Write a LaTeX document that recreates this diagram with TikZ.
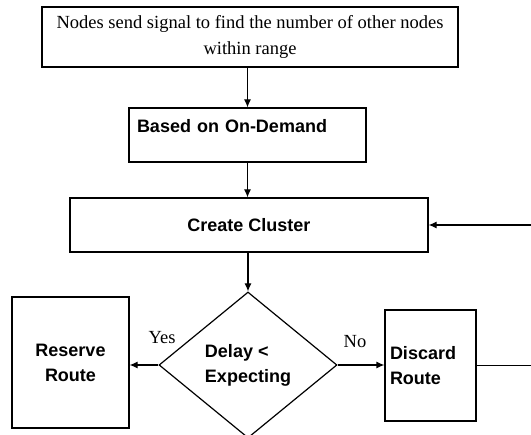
\documentclass[tikz,border=0pt]{standalone}
\usepackage{fontspec}
\setmainfont{Liberation Serif}
\setsansfont{Liberation Sans}
\usetikzlibrary{shapes.geometric,arrows.meta}

\tikzset{
	box/.style={draw, line width=1.2pt, rectangle, inner sep=0pt},
	boldtxt/.style={font=\fontsize{18}{25}\selectfont\sffamily\bfseries},
	serftxt/.style={font=\fontsize{18.5}{26}\selectfont},
	arr/.style={line width=1.2pt, -{Latex[length=8pt,width=7pt]}},
	plain/.style={line width=1.2pt}
}

\begin{document}
\begin{tikzpicture}[x=1pt, y=-1pt]
	\useasboundingbox (0,0) rectangle (531,435);
	
	% boxes
	\node[box, serftxt, align=center, minimum width=416pt, minimum height=60pt] (signal) at (250,37)
		{Nodes send signal to find the number of other nodes\\within range};
	\node[box, boldtxt, minimum width=237pt, minimum height=54pt, text width=221pt, align=left,
		text height=13pt, text depth=18pt] (ondemand) at (247.5,135) {Based on On-Demand};
	\node[box, boldtxt, minimum width=358pt, minimum height=54pt] (cluster) at (249,225) {Create Cluster};
	\node[draw, plain, diamond, boldtxt, align=left, inner sep=0pt,
		minimum width=178pt, minimum height=146pt] (delay) at (248,365) {Delay <\\Expecting};
	\node[box, boldtxt, align=center, minimum width=117pt, minimum height=131pt] (reserve) at (70.5,362.5)
		{Reserve\\Route};
	\node[box, boldtxt, align=left, minimum width=91pt, minimum height=111pt, text width=81pt] (discard) at (430.5,365.5)
		{Discard\\Route};
	
	% ends at the picture edge
	\coordinate (back) at (531,225);
	\coordinate (out) at (531,365);
	
	% connectors
	\draw[arr] (signal.south -| ondemand.north) -- (ondemand.north);
	\draw[arr] (ondemand.south) -- (ondemand.south |- cluster.north);
	\draw[arr] (cluster.south -| delay.north) -- (delay.north);
	\draw[arr] (delay.west) -- (delay.west -| reserve.east);
	\draw[arr] (delay.east) -- (delay.east -| discard.west);
	\draw[plain] (discard.east) -- (discard.east -| out);
	\draw[arr] (back) -- (back -| cluster.east);
	
	% labels
	\node[serftxt] (yes) at (162,338) {Yes};
	\node[serftxt] (no) at (355,342) {No};
\end{tikzpicture}
\end{document}
